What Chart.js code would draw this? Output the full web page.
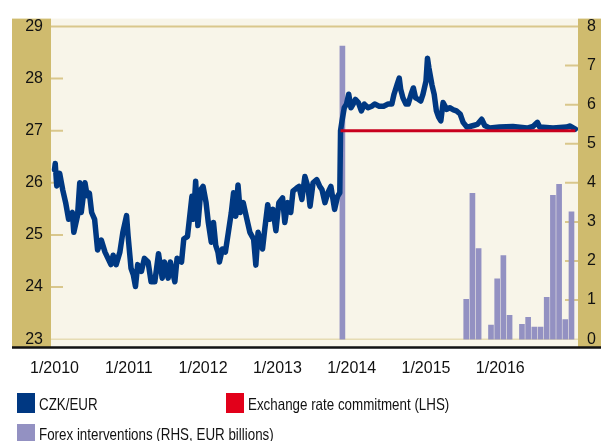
<!DOCTYPE html>
<html>
<head>
<meta charset="utf-8">
<script src="https://cdn.jsdelivr.net/npm/chart.js@4.4.1/dist/chart.umd.min.js"></script>
<style>
  body { margin: 0; background: #fff; }
  #wrap { position: relative; width: 601px; height: 441px; overflow: hidden; }
  .lg { position: absolute; font-family: "Liberation Sans", Arial, sans-serif; font-size: 16.5px; color: #111; line-height: 20px; white-space: nowrap; transform: scaleX(0.81); transform-origin: 0 0; }
  .sw { position: absolute; width: 18px; height: 20px; }
</style>
</head>
<body>
<div id="wrap">
  <canvas id="fxChart" width="601" height="441"></canvas>
  <div class="sw" style="left:17px;top:393px;background:#003882"></div>
  <div class="lg" style="left:39px;top:394px">CZK/EUR</div>
  <div class="sw" style="left:226px;top:393px;background:#E2001A"></div>
  <div class="lg" style="left:248px;top:394px">Exchange rate commitment (LHS)</div>
  <div class="sw" style="left:17px;top:424px;background:#9391C2"></div>
  <div class="lg" style="left:39px;top:424px">Forex interventions (RHS, EUR billions)</div>
</div>
<script>
// CZK/EUR (decimal year, rate)
const rateDates = [
  2010.00, 2010.01, 2010.03, 2010.07, 2010.11, 2010.15, 2010.19, 2010.24, 2010.26, 2010.31,
  2010.34, 2010.36, 2010.41, 2010.44, 2010.47, 2010.50, 2010.54, 2010.58, 2010.63, 2010.68,
  2010.72, 2010.76, 2010.79, 2010.83, 2010.88, 2010.92, 2010.97, 2010.99, 2011.03, 2011.06,
  2011.09, 2011.12, 2011.17, 2011.21, 2011.26, 2011.30, 2011.35, 2011.40, 2011.45, 2011.48,
  2011.53, 2011.56, 2011.62, 2011.65, 2011.71, 2011.74, 2011.79, 2011.85, 2011.87, 2011.90,
  2011.93, 2011.97, 2012.00, 2012.04, 2012.07, 2012.11, 2012.14, 2012.17, 2012.20, 2012.22,
  2012.26, 2012.30, 2012.34, 2012.38, 2012.41, 2012.44, 2012.47, 2012.50, 2012.54, 2012.59,
  2012.63, 2012.68, 2012.71, 2012.74, 2012.80, 2012.83, 2012.87, 2012.90, 2012.94, 2012.98,
  2013.02, 2013.07, 2013.10, 2013.14, 2013.18, 2013.21, 2013.26, 2013.29, 2013.33, 2013.37,
  2013.41, 2013.44, 2013.48, 2013.53, 2013.57, 2013.60, 2013.64, 2013.68, 2013.72, 2013.77,
  2013.81, 2013.84, 2013.85, 2013.87, 2013.90, 2013.93, 2013.96, 2013.99, 2014.02, 2014.05,
  2014.09, 2014.13, 2014.17, 2014.22, 2014.27, 2014.31, 2014.37, 2014.43, 2014.49, 2014.54,
  2014.57, 2014.61, 2014.64, 2014.66, 2014.69, 2014.73, 2014.76, 2014.80, 2014.83, 2014.86,
  2014.90, 2014.93, 2014.96, 2015.00, 2015.02, 2015.04, 2015.08, 2015.11, 2015.14, 2015.17,
  2015.20, 2015.23, 2015.28, 2015.32, 2015.37, 2015.41, 2015.46, 2015.50, 2015.55, 2015.59,
  2015.64, 2015.69, 2015.75, 2015.79, 2015.86, 2015.99, 2016.17, 2016.36, 2016.44, 2016.50,
  2016.53, 2016.71, 2016.89, 2016.94, 2017.01
];
const rateValues = [
  26.25, 26.37, 25.94, 26.18, 25.87, 25.62, 25.30, 25.43, 25.05, 25.37,
  26.00, 25.43, 26.00, 25.75, 25.80, 25.43, 25.30, 24.71, 24.90, 24.67,
  24.55, 24.43, 24.61, 24.43, 24.67, 25.05, 25.37, 24.99, 24.36, 24.24,
  24.01, 24.43, 24.30, 24.55, 24.48, 24.10, 24.10, 24.64, 24.17, 24.48,
  24.17, 24.48, 24.10, 24.55, 24.48, 24.92, 24.97, 25.74, 25.30, 26.03,
  25.18, 25.87, 25.93, 25.62, 25.24, 24.86, 25.24, 24.80, 24.67, 24.48,
  24.73, 24.67, 25.05, 25.43, 25.81, 25.36, 25.96, 25.43, 25.62, 25.30,
  25.05, 24.92, 24.42, 25.05, 24.73, 25.11, 25.58, 25.30, 25.49, 25.08,
  25.62, 25.71, 25.24, 25.62, 25.43, 25.84, 25.90, 25.93, 25.68, 26.12,
  25.93, 25.55, 26.00, 26.06, 25.93, 25.87, 25.62, 25.81, 25.93, 25.49,
  25.74, 25.81, 27.00, 27.19, 27.44, 27.51, 27.70, 27.44, 27.51, 27.60,
  27.54, 27.38, 27.51, 27.44, 27.47, 27.51, 27.47, 27.47, 27.51, 27.51,
  27.70, 27.88, 28.01, 27.79, 27.63, 27.51, 27.51, 27.70, 27.82, 27.63,
  27.60, 27.57, 27.70, 27.95, 28.39, 28.20, 27.88, 27.70, 27.38, 27.26,
  27.19, 27.54, 27.41, 27.44, 27.40, 27.38, 27.32, 27.16, 27.07, 27.08,
  27.10, 27.12, 27.22, 27.10, 27.05, 27.07, 27.08, 27.05, 27.08, 27.16,
  27.07, 27.05, 27.07, 27.09, 27.03
];

// Exchange rate commitment (floor)
const floorDates = [2013.85, 2017.01];
const floorValues = [27, 27];

// Forex interventions, EUR billions (year, month)
const fxYears = [2013, 2015, 2015, 2015, 2015, 2015, 2016, 2016, 2016, 2016, 2016, 2016, 2016, 2016, 2016, 2016, 2016];
const fxMonths = [11, 7, 8, 9, 11, 12, 1, 2, 4, 5, 6, 7, 8, 9, 10, 11, 12];
const fxValues = [7.5, 1.02, 3.73, 2.32, 0.36, 1.54, 2.14, 0.61, 0.38, 0.56, 0.31, 0.31, 1.07, 3.68, 3.96, 0.50, 3.26];

const yearTicks = [2010, 2011, 2012, 2013, 2014, 2015, 2016];
const leftTicks = [23, 24, 25, 26, 27, 28, 29];
const rightTicks = [0, 1, 2, 3, 4, 5, 6, 7, 8];

const TAN = '#CFBB6E';
const CREAM = '#F8F5E9';
const GRID = '#D9C78C';

const pairs = (xs, ys) => xs.map((x, i) => ({ x: x, y: ys[i] }));

const frame = {
    id: 'frame',
    beforeDraw(chart) {
        const { ctx, chartArea: a } = chart;
        ctx.save();
        ctx.fillStyle = CREAM;
        ctx.fillRect(a.left, a.top, a.right - a.left, a.bottom - a.top);
        ctx.fillStyle = TAN;
        ctx.fillRect(12, a.top, a.left - 12, a.bottom - a.top);
        ctx.fillRect(a.right, a.top, chart.width - a.right, a.bottom - a.top);
        ctx.restore();
    },
    beforeDatasetsDraw(chart) {
        const { ctx, chartArea: a, scales } = chart;
        ctx.save();
        ctx.strokeStyle = GRID;
        ctx.lineWidth = 2;
        ctx.beginPath();
        let y = scales.y.getPixelForValue(29);
        ctx.moveTo(a.left, y); ctx.lineTo(a.right, y);
        [24, 25, 26, 27, 28].forEach(v => {
            const p = scales.y.getPixelForValue(v);
            ctx.moveTo(a.left, p); ctx.lineTo(a.left + 12, p);
        });
        [1, 2, 3, 4, 5, 6, 7].forEach(v => {
            const p = scales.y2.getPixelForValue(v);
            ctx.moveTo(a.right - 13, p); ctx.lineTo(a.right, p);
        });
        ctx.stroke();
        ctx.strokeStyle = '#E6DCB4';
        ctx.lineWidth = 1.5;
        ctx.beginPath();
        y = scales.y.getPixelForValue(23);
        ctx.moveTo(a.left, y); ctx.lineTo(a.right, y);
        ctx.stroke();
        ctx.restore();
    },
    afterDatasetsDraw(chart) {
        const { ctx, chartArea: a } = chart;
        ctx.save();
        ctx.strokeStyle = '#111';
        ctx.lineWidth = 2.5;
        ctx.beginPath();
        ctx.moveTo(12, a.bottom + 0.5); ctx.lineTo(chart.width, a.bottom + 0.5);
        ctx.stroke();
        ctx.restore();
    }
};

const tickFont = { family: 'Liberation Sans', size: 16 };

new Chart(document.getElementById('fxChart'), {
    type: 'bar',
    data: {
        datasets: [
            {
                type: 'line',
                label: 'Exchange rate commitment (LHS)',
                data: pairs(floorDates, floorValues),
                borderColor: '#C8001E',
                borderWidth: 3,
                pointRadius: 0,
                yAxisID: 'y',
                order: 0
            },
            {
                type: 'line',
                label: 'CZK/EUR',
                data: pairs(rateDates, rateValues),
                borderColor: '#003882',
                borderWidth: 5.5,
                borderJoinStyle: 'round',
                borderCapStyle: 'round',
                pointRadius: 0,
                tension: 0,
                yAxisID: 'y',
                order: 1
            },
            {
                type: 'bar',
                label: 'Forex interventions (RHS, EUR billions)',
                data: fxYears.map((yr, i) => ({ x: yr + (fxMonths[i] - 0.5) / 12, y: fxValues[i] })),
                backgroundColor: '#9391C2',
                barThickness: 5,
                yAxisID: 'y2',
                order: 2
            }
        ]
    },
    options: {
        responsive: false,
        animation: false,
        devicePixelRatio: 1,
        layout: { padding: { top: 13, left: 0, right: 0, bottom: 0 } },
        plugins: { legend: { display: false }, tooltip: { enabled: false } },
        scales: {
            x: {
                type: 'linear',
                offset: false,
                min: 2009.953,
                max: 2017.046,
                afterBuildTicks: s => { s.ticks = yearTicks.map(v => ({ value: v })); },
                afterFit: s => { s.height = 94; },
                grid: { display: false, drawTicks: false },
                border: { display: false },
                ticks: { autoSkip: false, maxRotation: 0, padding: 12, color: '#111', font: tickFont, callback: v => '1/' + v }
            },
            y: {
                position: 'left',
                min: 22.849,
                max: 29.151,
                afterBuildTicks: s => { s.ticks = leftTicks.map(v => ({ value: v })); },
                afterFit: s => { s.width = 51; },
                grid: { display: false, drawTicks: false },
                border: { display: false },
                ticks: { padding: 8, color: '#111', font: tickFont }
            },
            y2: {
                position: 'right',
                min: -0.201,
                max: 8.201,
                afterBuildTicks: s => { s.ticks = rightTicks.map(v => ({ value: v })); },
                afterFit: s => { s.width = 23; },
                grid: { display: false, drawTicks: false },
                border: { display: false },
                ticks: { padding: 9, color: '#111', font: tickFont }
            }
        }
    },
    plugins: [frame]
});
</script>
</body>
</html>
